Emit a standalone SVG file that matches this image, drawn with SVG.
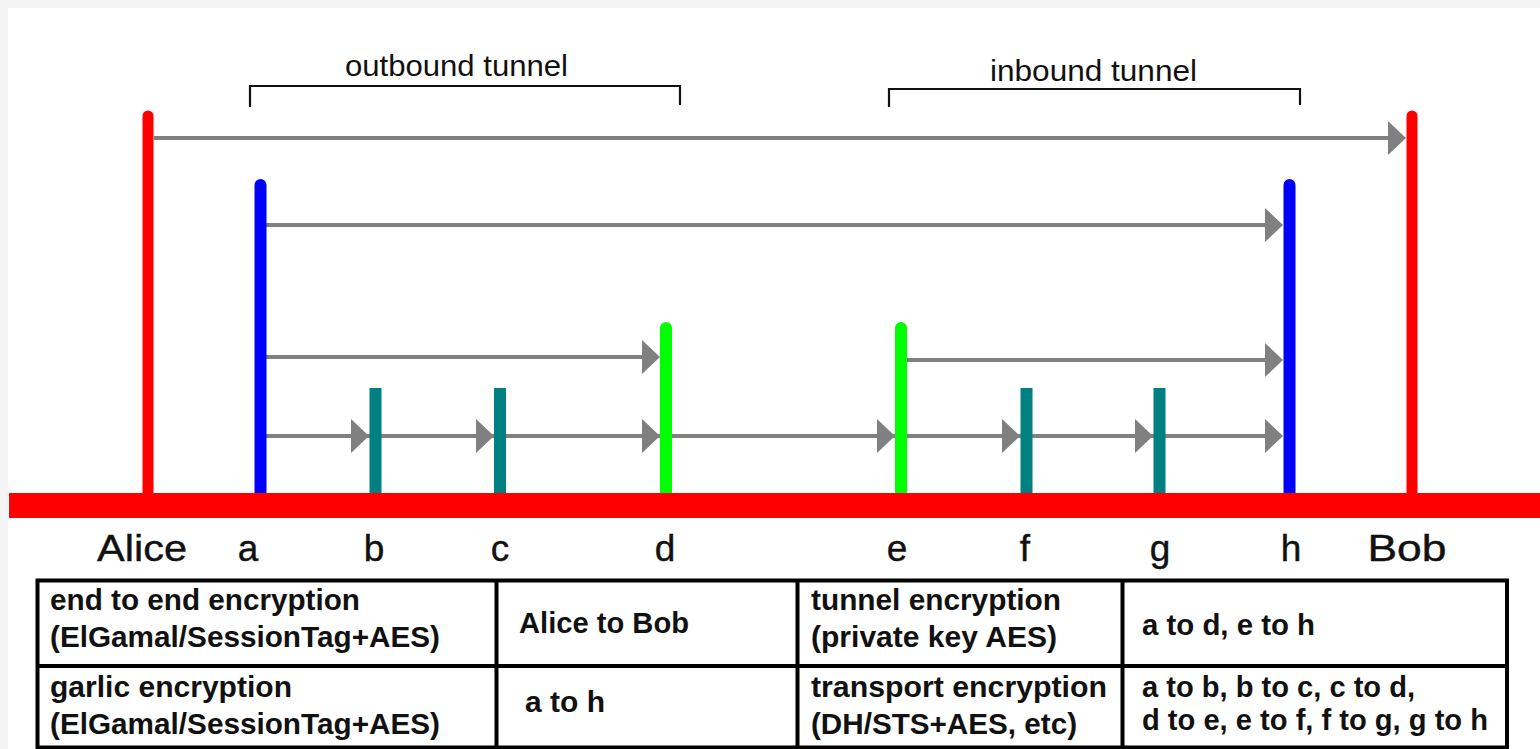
<svg xmlns="http://www.w3.org/2000/svg" width="1540" height="749" viewBox="0 0 1540 749">
<style>
.red{stroke:#ff0000;stroke-width:11;stroke-linecap:round;fill:none}
.blue{stroke:#0000ff;stroke-width:12;stroke-linecap:round;fill:none}
.green{stroke:#00ff00;stroke-width:12;stroke-linecap:round;fill:none}
.teal{stroke:#008080;stroke-width:12;stroke-linecap:butt;fill:none}
.conn{stroke:#808080;stroke-width:4;fill:none}
.head{fill:#808080}
.brk{stroke:#111;stroke-width:2.2;fill:none}
.ttl{font-family:"Liberation Sans",Arial,sans-serif;font-size:29px;fill:#111}
.lbl{font-family:"Liberation Sans",Arial,sans-serif;font-size:37px;fill:#111;text-anchor:middle;stroke:#111;stroke-width:0.4}
.cell{font-family:"Liberation Sans",Arial,sans-serif;font-size:29px;font-weight:bold;fill:#111}
.grid{stroke:#000;stroke-width:4;fill:none}
</style>
<defs>
<polygon id="ah" points="0,0 -18,-17 -18,17"/>
</defs>
<rect x="0" y="0" width="1540" height="749" fill="#ffffff"/>
<rect x="0" y="0" width="1540" height="8" fill="#f4f4f4"/>
<rect x="0" y="0" width="8" height="749" fill="#f4f4f4"/>

<g id="connectors">
<line class="conn" x1="154" y1="138" x2="1395" y2="138"/>
<use href="#ah" class="head" x="1406" y="138"/>
<line class="conn" x1="266" y1="225" x2="1272" y2="225"/>
<use href="#ah" class="head" x="1283" y="225"/>
<line class="conn" x1="266" y1="357" x2="650" y2="357"/>
<use href="#ah" class="head" x="660" y="357"/>
<line class="conn" x1="907" y1="360" x2="1272" y2="360"/>
<use href="#ah" class="head" x="1283" y="360"/>
<line class="conn" x1="266" y1="436" x2="1272" y2="436"/>
<use href="#ah" class="head" x="369" y="436"/>
<use href="#ah" class="head" x="494" y="436"/>
<use href="#ah" class="head" x="660" y="436"/>
<use href="#ah" class="head" x="895" y="436"/>
<use href="#ah" class="head" x="1020" y="436"/>
<use href="#ah" class="head" x="1153" y="436"/>
<use href="#ah" class="head" x="1283" y="436"/>
</g>

<g id="outbound-tunnel">
<polyline class="brk" points="250,107 250,86 680,86 680,105"/>
<text class="ttl" x="345" y="76" textLength="223" lengthAdjust="spacingAndGlyphs">outbound tunnel</text>
</g>
<g id="inbound-tunnel">
<polyline class="brk" points="889,107 889,89 1300,89 1300,105"/>
<text class="ttl" x="990" y="81" textLength="207" lengthAdjust="spacingAndGlyphs">inbound tunnel</text>
</g>

<g id="alice">
<line class="red" x1="148" y1="116" x2="148" y2="495"/>
<text class="lbl" x="142" y="561" textLength="90" lengthAdjust="spacingAndGlyphs">Alice</text>
</g>
<g id="a">
<line class="blue" x1="260.5" y1="185" x2="260.5" y2="495"/>
<text class="lbl" x="248" y="561">a</text>
</g>
<g id="b">
<line class="teal" x1="375.5" y1="388" x2="375.5" y2="495"/>
<text class="lbl" x="374" y="561">b</text>
</g>
<g id="c">
<line class="teal" x1="500" y1="388" x2="500" y2="495"/>
<text class="lbl" x="500" y="561">c</text>
</g>
<g id="d">
<line class="green" x1="666" y1="328" x2="666" y2="495"/>
<text class="lbl" x="665" y="561">d</text>
</g>
<g id="e">
<line class="green" x1="901" y1="328" x2="901" y2="495"/>
<text class="lbl" x="897" y="561">e</text>
</g>
<g id="f">
<line class="teal" x1="1026.5" y1="388" x2="1026.5" y2="495"/>
<text class="lbl" x="1025" y="561">f</text>
</g>
<g id="g">
<line class="teal" x1="1159.5" y1="388" x2="1159.5" y2="495"/>
<text class="lbl" x="1160" y="561">g</text>
</g>
<g id="h">
<line class="blue" x1="1289.5" y1="185" x2="1289.5" y2="495"/>
<text class="lbl" x="1291" y="561">h</text>
</g>
<g id="bob">
<line class="red" x1="1412" y1="116" x2="1412" y2="495"/>
<text class="lbl" x="1407" y="561" textLength="79" lengthAdjust="spacingAndGlyphs">Bob</text>
</g>

<g id="ground">
<rect x="9" y="493" width="1531" height="25" fill="#ff0000"/>
</g>

<g id="table">
<rect class="grid" x="37.5" y="580.5" width="1469.5" height="167"/>
<line class="grid" x1="37.5" y1="666" x2="1507" y2="666"/>
<line class="grid" x1="496.5" y1="580.5" x2="496.5" y2="747.5"/>
<line class="grid" x1="797.5" y1="580.5" x2="797.5" y2="747.5"/>
<line class="grid" x1="1122.5" y1="580.5" x2="1122.5" y2="747.5"/>
<text class="cell" x="50" y="610" textLength="310" lengthAdjust="spacingAndGlyphs">end to end encryption</text>
<text class="cell" x="50" y="647" textLength="390" lengthAdjust="spacingAndGlyphs">(ElGamal/SessionTag+AES)</text>
<text class="cell" x="50" y="697" textLength="242" lengthAdjust="spacingAndGlyphs">garlic encryption</text>
<text class="cell" x="50" y="734" textLength="390" lengthAdjust="spacingAndGlyphs">(ElGamal/SessionTag+AES)</text>
<text class="cell" x="519" y="633" textLength="170" lengthAdjust="spacingAndGlyphs">Alice to Bob</text>
<text class="cell" x="525" y="712" textLength="80" lengthAdjust="spacingAndGlyphs">a to h</text>
<text class="cell" x="811" y="610" textLength="250" lengthAdjust="spacingAndGlyphs">tunnel encryption</text>
<text class="cell" x="811" y="647" textLength="246" lengthAdjust="spacingAndGlyphs">(private key AES)</text>
<text class="cell" x="811" y="697" textLength="296" lengthAdjust="spacingAndGlyphs">transport encryption</text>
<text class="cell" x="811" y="734" textLength="266" lengthAdjust="spacingAndGlyphs">(DH/STS+AES, etc)</text>
<text class="cell" x="1142" y="635" textLength="173" lengthAdjust="spacingAndGlyphs">a to d, e to h</text>
<text class="cell" x="1142" y="697" textLength="273" lengthAdjust="spacingAndGlyphs">a to b, b to c, c to d,</text>
<text class="cell" x="1142" y="730" textLength="346" lengthAdjust="spacingAndGlyphs">d to e, e to f, f to g, g to h</text>
</g>
</svg>
